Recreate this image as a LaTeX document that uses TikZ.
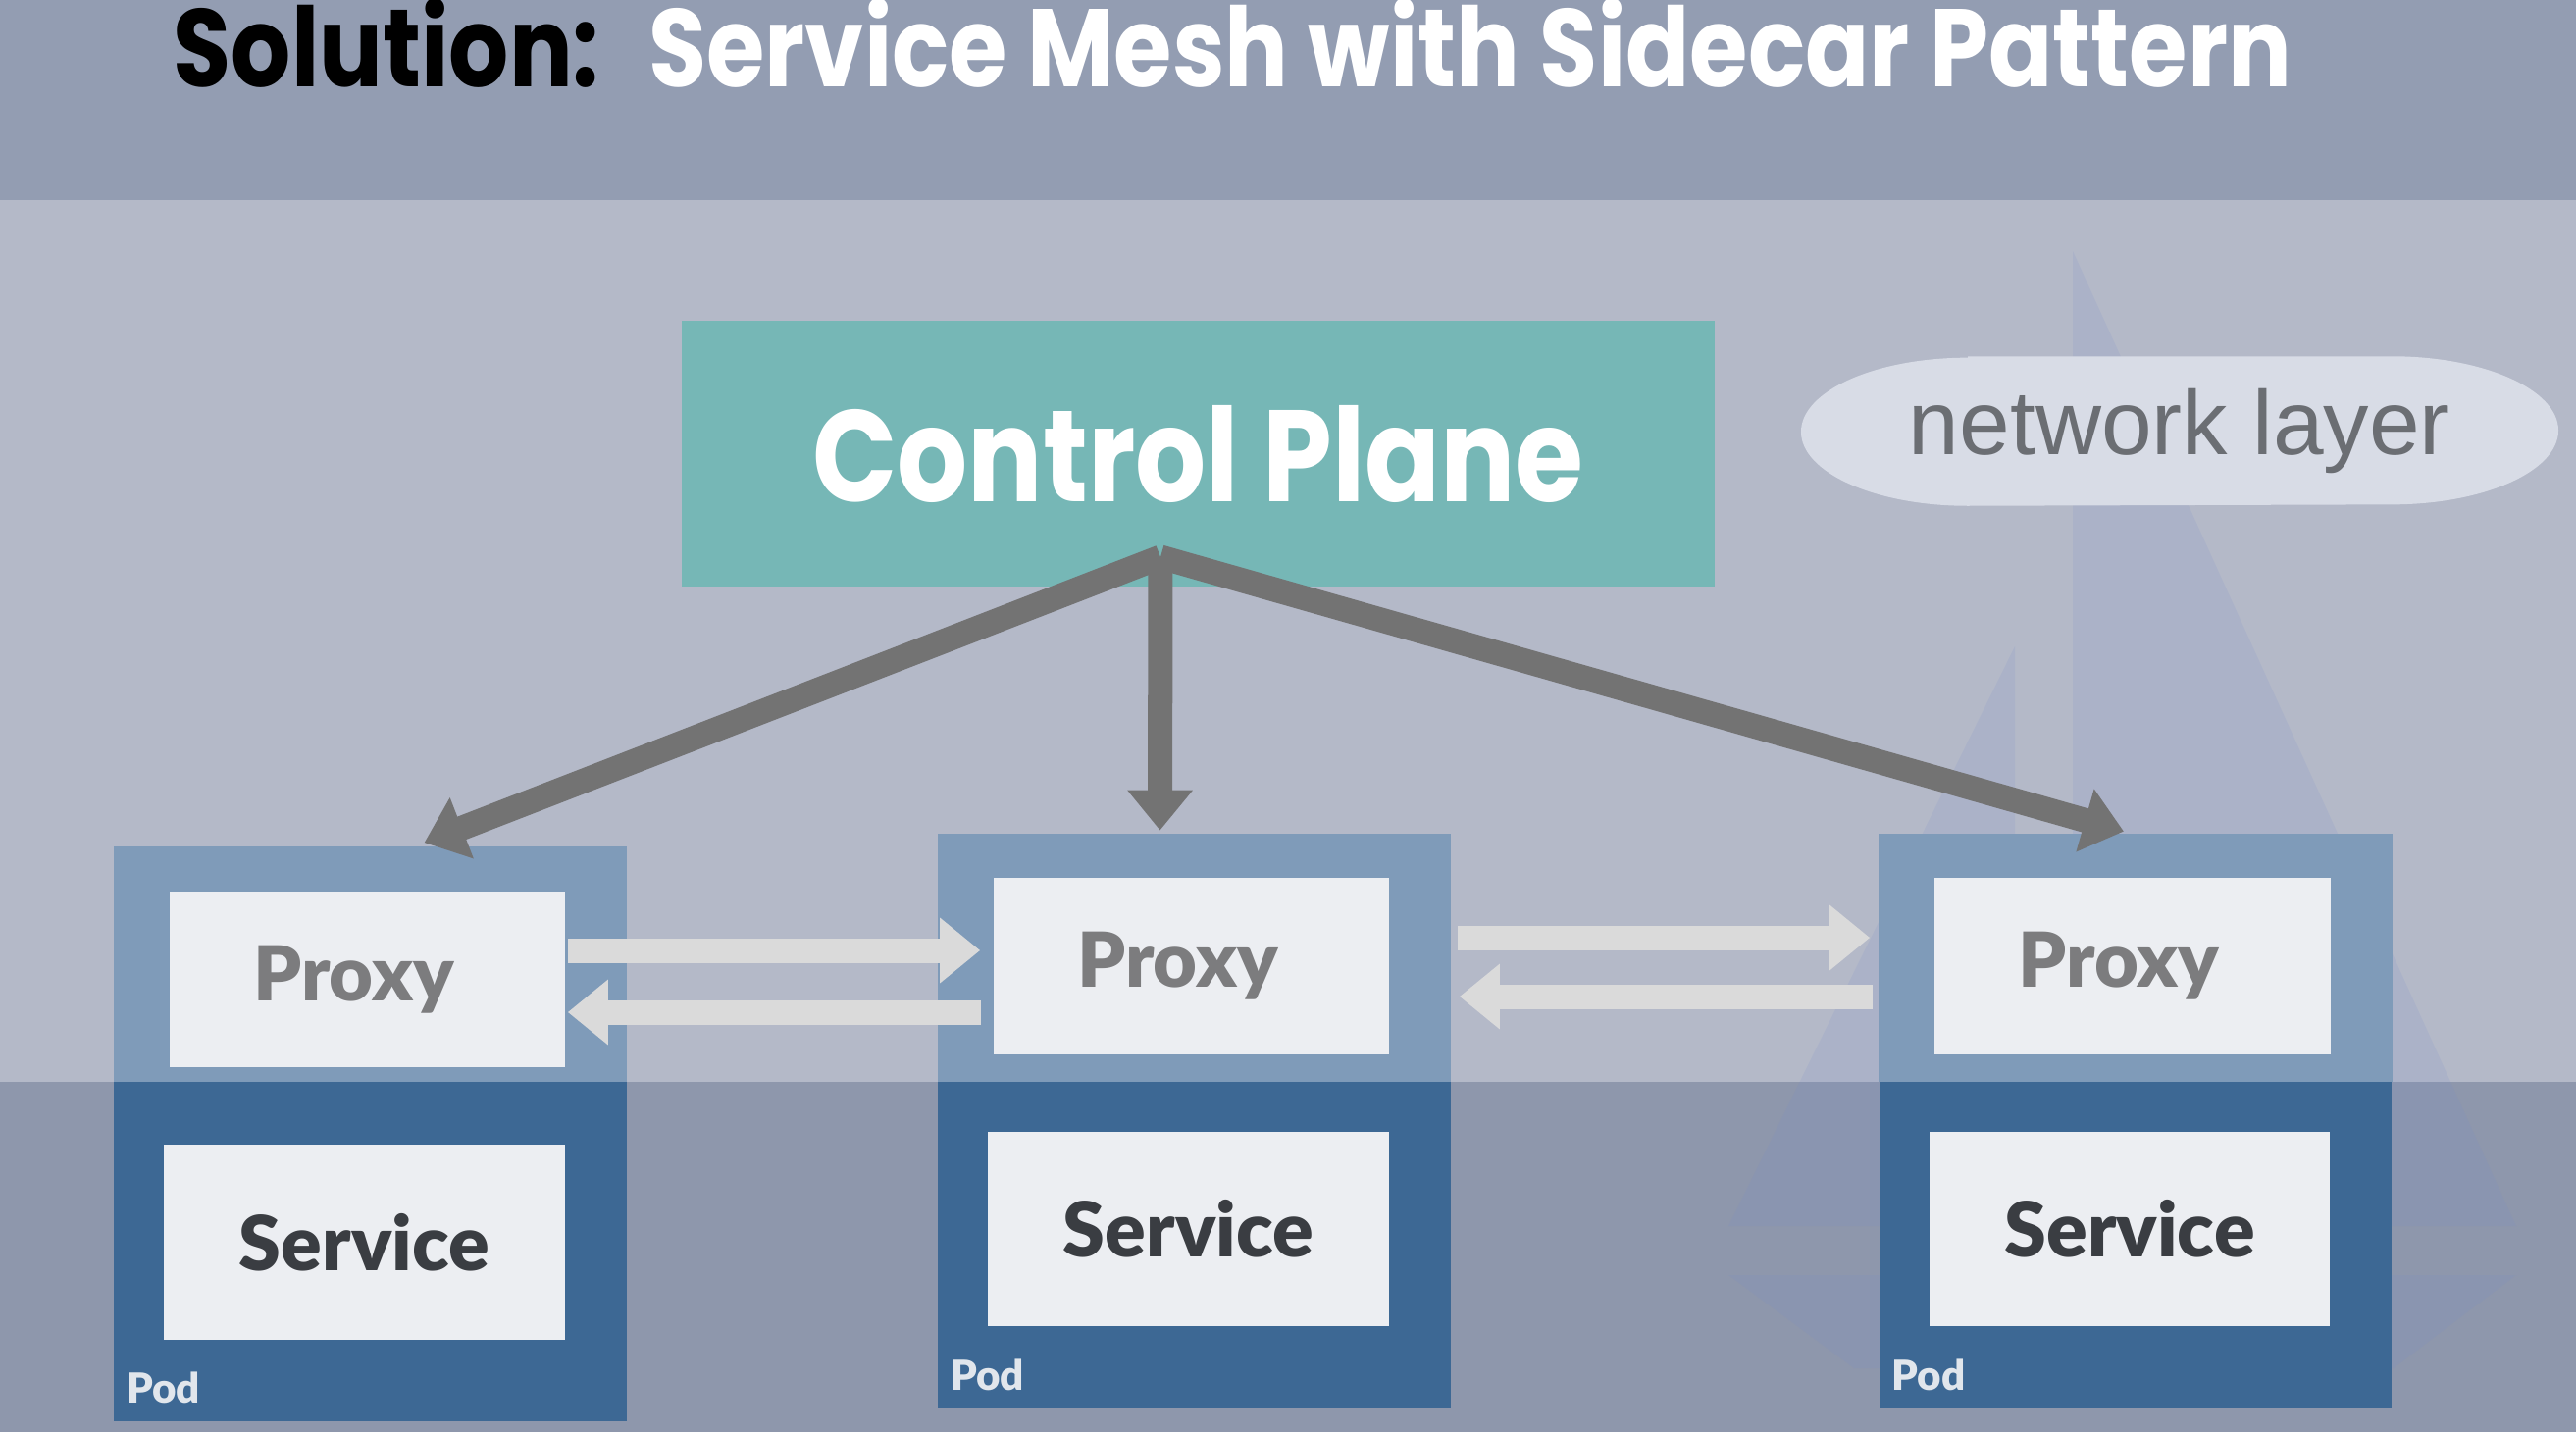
\documentclass[tikz,border=0pt]{standalone}
\usepackage{fontspec}
\setmainfont{Lato}
\newfontfamily\boxfont{Lato Black}
\newfontfamily\headfont[FakeStretch=0.855]{Poppins}
\newfontfamily\netfont{Liberation Sans}
\usetikzlibrary{calc,arrows.meta}
\definecolor{titlebg}{RGB}{147,157,178}
\definecolor{mainbg}{RGB}{180,185,200}
\definecolor{lowbg}{RGB}{142,151,172}
\definecolor{teal}{RGB}{118,183,182}
\definecolor{podtop}{RGB}{127,155,185}
\definecolor{podbot}{RGB}{61,104,148}
\definecolor{boxfill}{RGB}{236,238,242}
\definecolor{proxytext}{RGB}{124,124,126}
\definecolor{servicetext}{RGB}{58,61,66}
\definecolor{cloudfill}{RGB}{216,220,230}
\definecolor{cloudtext}{RGB}{107,110,115}
\definecolor{ctrlgray}{RGB}{115,115,115}
\definecolor{flowgray}{RGB}{218,218,218}
\definecolor{sailblue}{RGB}{120,140,200}
\tikzset{
  pod/.style={fill=podbot,inner sep=0,minimum width=5.22cm,minimum height=5.85cm},
  proxybox/.style={fill=boxfill,inner sep=0,minimum width=4.03cm,minimum height=1.79cm,
    text=proxytext,font=\boxfont\fontsize{22}{22}\selectfont},
  servicebox/.style={fill=boxfill,inner sep=0,minimum width=4.08cm,minimum height=1.98cm,
    text=servicetext,font=\boxfont\fontsize{22}{22}\selectfont},
  podlabel/.style={anchor=base west,inner sep=0,text=boxfill!90!podtop,font=\boxfont\fontsize{12}{12}\selectfont},
  ctrlarrow/.style={draw=ctrlgray,line width=2.5mm,-{Triangle[length=4.1mm,width=6.4mm]}},
  flow/.style={draw=flowgray,line width=2.5mm,-{Triangle[length=4.1mm,width=6.4mm]}},
  sail/.style={fill=sailblue,fill opacity=0.15}
}
\begin{document}
\begin{tikzpicture}[x=0.01cm,y=-0.01cm]
\useasboundingbox (0,0) rectangle (2626,1460);
\fill[titlebg] (0,0) rectangle (2626,204);
\fill[mainbg] (0,204) rectangle (2626,1103);
\fill[lowbg] (0,1103) rectangle (2626,1460);
% faint sails in the back
\fill[sail] (2113,256) -- (2113,1250) -- (2565,1250) -- cycle;
\fill[sail] (2054,659) -- (2054,1250) -- (1762,1250) -- cycle;
\fill[sail] (1762,1300) -- (2565,1300) -- (2440,1395) -- (1890,1395) -- cycle;
\node[anchor=base west,inner sep=0,font=\headfont\bfseries\fontsize{32}{32}\selectfont] (title) at (176,88)
  {Solution:\hspace{0.5cm}\textcolor{white}{Service Mesh with Sidecar Pattern}};
\node[fill=teal,inner sep=0,minimum width=10.53cm,minimum height=2.71cm,text=white,
  font=\headfont\bfseries\fontsize{37.7}{37.7}\selectfont] (ctrl) at (1221.5,462.5) {Control Plane};
\node[inner sep=0,minimum width=7.7cm,minimum height=1.51cm,text=cloudtext,
  font=\netfont\fontsize{26.4}{26.4}\selectfont] (net) at (2222,439.5) {};
\fill[cloudfill] ($(net.north west)+(170,0)$) -- ($(net.north east)+(-170,0)$)
  arc[start angle=90,end angle=-90,x radius=1.7cm,y radius=0.755cm]
  -- ($(net.south west)+(170,0)$)
  arc[start angle=270,end angle=90,x radius=1.7cm,y radius=0.755cm] -- cycle;
\node[text=cloudtext,font=\netfont\fontsize{26.4}{26.4}\selectfont] at (net) {network layer};
\foreach \n/\x/\y in {A/377.5/1156.5,B/1217.5/1143,C/2177/1143}{
  \node[pod] (pod\n) at (\x,\y) {};
  \fill[podtop] (pod\n.north west) rectangle (pod\n.east |- 0,1103);
  \node[proxybox] (proxy\n) at ($(pod\n)+(-3,-158)$) {\raisebox{-0.06cm}{Proxy}\kern0.28cm};
  \node[servicebox] (service\n) at ($(pod\n)+(-6,110)$) {Service};
  \node[podlabel] (label\n) at ($(pod\n.south west)+(13,-19)$) {Pod};
}
\coordinate (hub) at (1183,568);
\draw[ctrlarrow] (hub) -- ($(podA.north)+(55,-4)$);
\draw[ctrlarrow] (hub) -- ($(podB.north)+(-35,-3)$);
\draw[ctrlarrow] (hub) -- ($(podC.north)+(-12,-2)$);
\draw[flow] ($(proxyA.east)+(2,-29.5)$) -- ($(proxyB.west)+(-13,-16)$);
\draw[flow] ($(proxyB.west)+(-12,47)$) -- ($(proxyA.east)+(2,33.5)$);
\draw[flow] ($(proxyB.east)+(69,-29)$) -- ($(proxyC.west)+(-65.5,-29)$);
\draw[flow] ($(proxyC.west)+(-62.5,31)$) -- ($(proxyB.east)+(71,31)$);
\end{tikzpicture}
\end{document}
